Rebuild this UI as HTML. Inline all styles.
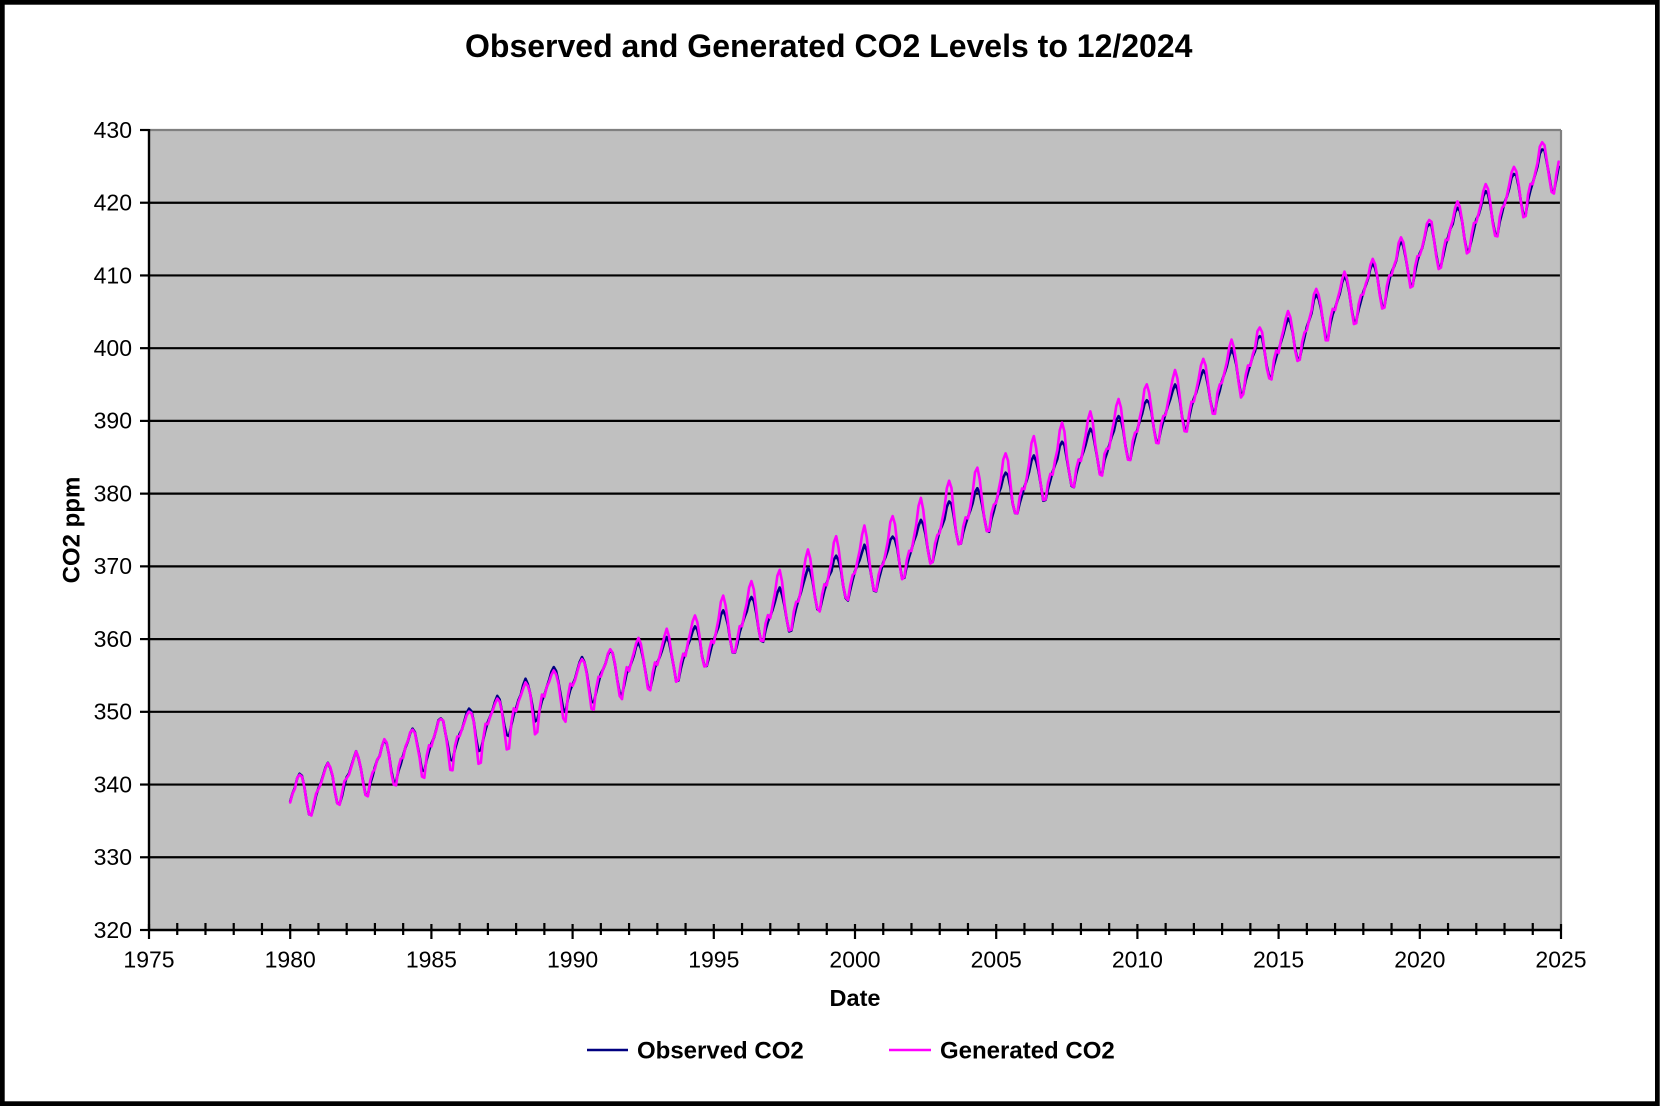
<!DOCTYPE html>
<html>
<head>
<meta charset="utf-8">
<style>
html,body{margin:0;padding:0;background:#fff;}
svg{display:block;}
text{font-family:"Liberation Sans",Arial,sans-serif;fill:#000;}
</style>
</head>
<body>
<svg id="c" width="1671" height="1106" viewBox="0 0 1671 1106" xmlns="http://www.w3.org/2000/svg">
<rect x="0" y="0" width="1671" height="1106" fill="#fff"/>
<rect x="2.35" y="2.35" width="1655" height="1101.3" fill="none" stroke="#000" stroke-width="4.7"/>

<text x="465" y="57" font-size="32" font-weight="bold">Observed and Generated CO2 Levels to 12/2024</text>

<!-- plot area -->
<rect x="149" y="130" width="1412" height="800" fill="#c0c0c0"/>
<g stroke="#000" stroke-width="2.2">
<line x1="149" y1="202.73" x2="1561" y2="202.73"/>
<line x1="149" y1="275.45" x2="1561" y2="275.45"/>
<line x1="149" y1="348.18" x2="1561" y2="348.18"/>
<line x1="149" y1="420.91" x2="1561" y2="420.91"/>
<line x1="149" y1="493.64" x2="1561" y2="493.64"/>
<line x1="149" y1="566.36" x2="1561" y2="566.36"/>
<line x1="149" y1="639.09" x2="1561" y2="639.09"/>
<line x1="149" y1="711.82" x2="1561" y2="711.82"/>
<line x1="149" y1="784.55" x2="1561" y2="784.55"/>
<line x1="149" y1="857.27" x2="1561" y2="857.27"/>
</g>
<line x1="149" y1="130" x2="1561" y2="130" stroke="#808080" stroke-width="2.2"/>
<line x1="1561" y1="130" x2="1561" y2="930" stroke="#808080" stroke-width="2.2"/>

<g id="series"></g>

<!-- axes -->
<line x1="149" y1="129" x2="149" y2="931" stroke="#000" stroke-width="2.4"/>
<line x1="148" y1="930" x2="1562" y2="930" stroke="#000" stroke-width="2.4"/>
<g stroke="#000" stroke-width="2.2">
<line x1="140" y1="130" x2="149" y2="130"/>
<line x1="140" y1="202.73" x2="149" y2="202.73"/>
<line x1="140" y1="275.45" x2="149" y2="275.45"/>
<line x1="140" y1="348.18" x2="149" y2="348.18"/>
<line x1="140" y1="420.91" x2="149" y2="420.91"/>
<line x1="140" y1="493.64" x2="149" y2="493.64"/>
<line x1="140" y1="566.36" x2="149" y2="566.36"/>
<line x1="140" y1="639.09" x2="149" y2="639.09"/>
<line x1="140" y1="711.82" x2="149" y2="711.82"/>
<line x1="140" y1="784.55" x2="149" y2="784.55"/>
<line x1="140" y1="857.27" x2="149" y2="857.27"/>
<line x1="140" y1="930" x2="149" y2="930"/>
</g>
<g id="xticks" stroke="#000" stroke-width="2.2"></g>

<g font-size="23" text-anchor="end">
<text x="132" y="137.8">430</text>
<text x="132" y="210.5">420</text>
<text x="132" y="283.3">410</text>
<text x="132" y="356">400</text>
<text x="132" y="428.7">390</text>
<text x="132" y="501.4">380</text>
<text x="132" y="574.2">370</text>
<text x="132" y="646.9">360</text>
<text x="132" y="719.6">350</text>
<text x="132" y="792.3">340</text>
<text x="132" y="865.1">330</text>
<text x="132" y="937.8">320</text>
</g>

<g font-size="23" text-anchor="middle">
<text x="149" y="967.5">1975</text>
<text x="290.2" y="967.5">1980</text>
<text x="431.4" y="967.5">1985</text>
<text x="572.6" y="967.5">1990</text>
<text x="713.8" y="967.5">1995</text>
<text x="855" y="967.5">2000</text>
<text x="996.2" y="967.5">2005</text>
<text x="1137.4" y="967.5">2010</text>
<text x="1278.6" y="967.5">2015</text>
<text x="1419.8" y="967.5">2020</text>
<text x="1561" y="967.5">2025</text>
</g>

<text x="855" y="1006" font-size="23.5" font-weight="bold" text-anchor="middle">Date</text>
<text x="0" y="0" font-size="24" font-weight="bold" text-anchor="middle" transform="translate(79.5,530) rotate(-90)">CO2 ppm</text>

<!-- legend -->
<line x1="587" y1="1050" x2="628" y2="1050" stroke="#000080" stroke-width="2.6"/>
<text x="637" y="1058.5" font-size="24" font-weight="bold">Observed CO2</text>
<line x1="889" y1="1050" x2="931" y2="1050" stroke="#ff00ff" stroke-width="2.6"/>
<text x="940" y="1058.5" font-size="24" font-weight="bold">Generated CO2</text>
</svg>

<script>
(function(){
  var NS="http://www.w3.org/2000/svg";
  function X(t){return 149+(t-1975)*28.24;}
  function Y(v){return 130+(430-v)*7.272727;}
  var g=document.getElementById("xticks");
  for(var yr=1975;yr<=2025;yr++){
    var l=document.createElementNS(NS,"line");
    var x=X(yr);
    var major=(yr%5===0);
    l.setAttribute("x1",x);l.setAttribute("x2",x);
    l.setAttribute("y1",major?924:923);l.setAttribute("y2",major?939:935);
    g.appendChild(l);
  }
  var ann={1979:336.78,1980:338.76,1981:340.12,1982:341.48,1983:343.15,1984:344.87,1985:346.35,1986:347.61,1987:349.31,1988:351.69,1989:353.20,1990:354.45,1991:355.70,1992:356.54,1993:357.21,1994:358.96,1995:360.97,1996:362.74,1997:363.88,1998:366.84,1999:368.54,2000:369.71,2001:371.32,2002:373.45,2003:375.98,2004:377.70,2005:379.98,2006:382.09,2007:384.02,2008:385.83,2009:387.64,2010:390.10,2011:391.85,2012:394.06,2013:396.74,2014:398.81,2015:401.01,2016:404.41,2017:406.76,2018:408.72,2019:411.65,2020:414.21,2021:416.41,2022:418.53,2023:421.08,2024:424.61,2025:427.2};
  function trend(t){var a=t-0.5;var y0=Math.floor(a);var f=a-y0;return ann[y0]+(ann[y0+1]-ann[y0])*f;}
  var seas=[0.0,0.7,1.4,2.6,3.1,2.4,0.8,-1.3,-3.1,-3.3,-2.0,-0.9];
  var sm=0;for(var i=0;i<12;i++)sm+=seas[i];sm/=12;
  for(i=0;i<12;i++)seas[i]-=sm;
  function pw(k,t){
    if(t<=k[0][0])return k[0][1];
    for(var j=1;j<k.length;j++){
      if(t<=k[j][0]){var f=(t-k[j-1][0])/(k[j][0]-k[j-1][0]);return k[j-1][1]+(k[j][1]-k[j-1][1])*f;}
    }
    return k[k.length-1][1];
  }
  var peakK=[[1980,0],[1984,0],[1987,-0.4],[1989,-0.6],[1990.5,-0.2],[1992,0.5],[1994,1.5],[1997,2.5],[2003,3.0],[2008,2.5],[2011,2.0],[2014,1.2],[2017,0.6],[2020,0.6],[2024,1.0]];
  var troughK=[[1980,0],[1983,-0.2],[1985,-1.0],[1987,-2.0],[1989,-1.8],[1991,-0.8],[1993,0],[2008,0],[2012,-0.4],[2024,-0.3]];
  var notchK=[[1980,0.3],[1985,1.0],[2024,1.0]];
  var P=[0,0.2,0.5,0.9,1.0,0.7,0.2,0,0,0,0,0];
  var T=[0,0,0,0,0,0,0,0.4,1.0,0.9,0.3,0];
  var N=[-0.3,0,0,0,0,0,0,0,0,0,0.8,0.8];
  function noise(i){var s=Math.sin(i*12.9898+78.233)*43758.5453;return (s-Math.floor(s))-0.5;}
  var obs=[],gen=[];
  var idx=0;
  for(var yy=1980;yy<=2024;yy++){
    for(var m=0;m<12;m++){
      var t=yy+m/12;
      var amp=1+0.002*(t-1980);
      var v=trend(t+1/24)+seas[m]*amp+noise(idx)*0.45;
      var gv=v+pw(peakK,t)*P[m]+pw(troughK,t)*T[m]+pw(notchK,t)*N[m]+noise(idx+777)*0.3;
      obs.push(X(t).toFixed(2)+","+Y(v).toFixed(2));
      gen.push(X(t).toFixed(2)+","+Y(gv).toFixed(2));
      idx++;
    }
  }
  var sg=document.getElementById("series");
  function pl(pts,col){
    var p=document.createElementNS(NS,"polyline");
    p.setAttribute("points",pts.join(" "));
    p.setAttribute("fill","none");
    p.setAttribute("stroke",col);
    p.setAttribute("stroke-width","2.6");
    p.setAttribute("stroke-linejoin","round");
    p.setAttribute("stroke-linecap","round");
    sg.appendChild(p);
  }
  pl(obs,"#000080");
  pl(gen,"#ff00ff");
})();
</script>
</body>
</html>
